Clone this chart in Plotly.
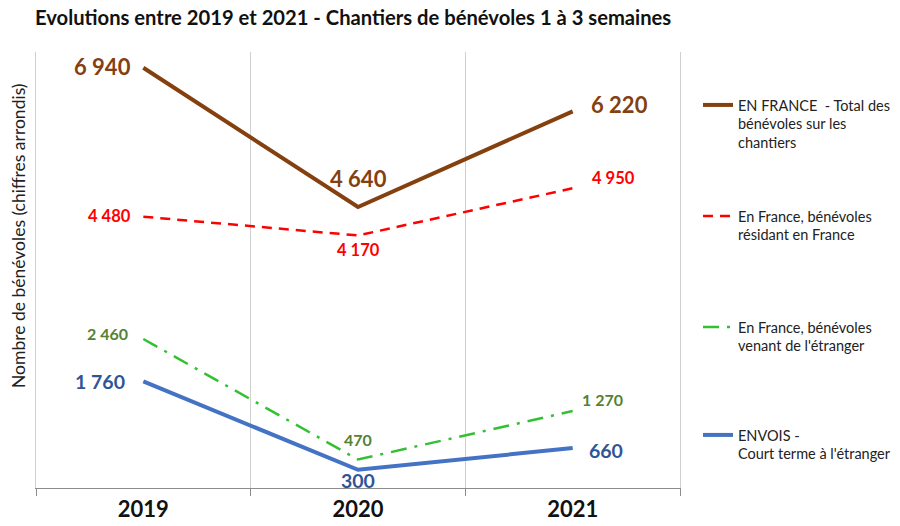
import plotly.graph_objects as go

years = ["2019", "2020", "2021"]
total_france = [6940, 4640, 6220]
residents = [4480, 4170, 4950]
etrangers = [2460, 470, 1270]
envois = [1760, 300, 660]

def fmt(v):
    return f"{v:,}".replace(",", " ")

FONT = "Lato"

series = [
    dict(values=total_france,
         name="EN FRANCE  - Total des<br>bénévoles sur les<br>chantiers",
         line=dict(color="#84400F", width=4),
         label_color="#84400F", label_size=22,
         offsets=[("right", -10, 1), ("center", 0, 29), ("left", 16, 7)]),
    dict(values=residents,
         name="En France, bénévoles<br>résidant en France",
         line=dict(color="#FF0000", width=2.5, dash="10px,7px"),
         label_color="#FF0000", label_size=16.5,
         offsets=[("right", -10, 1), ("center", 0, -15), ("left", 17, 10)]),
    dict(values=etrangers,
         name="En France, bénévoles<br>venant de l'étranger",
         line=dict(color="#33C033", width=2.5, dash="16px,8px,3px,8px"),
         label_color="#548235", label_size=16,
         offsets=[("right", -13, 6), ("center", 0, 20), ("left", 7, 12)]),
    dict(values=envois,
         name="ENVOIS -<br>Court terme à l'étranger",
         line=dict(color="#4472C4", width=4),
         label_color="#2F5597", label_size=19.5,
         offsets=[("right", -16, 0), ("center", 0, -11), ("left", 14, -2)]),
]

fig = go.Figure()
leg_tops = [89, 200, 311, 419]
legends = {}
leg_common = dict(xref="container", yref="container", xanchor="left", yanchor="top",
                  valign="top", bgcolor="rgba(0,0,0,0)",
                  font=dict(family=FONT, size=14.5, color="#222222"))

for i, s in enumerate(series):
    key = "legend" if i == 0 else f"legend{i+1}"
    legends[key] = dict(leg_common, x=698 / 900, y=1 - leg_tops[i] / 526)
    fig.add_trace(go.Scatter(
        x=years, y=s["values"], mode="lines", name=s["name"],
        line=s["line"], legend=key, hoverinfo="x+y",
    ))
    for xi, (yv, (anchor, dx, dy)) in enumerate(zip(s["values"], s["offsets"])):
        fig.add_annotation(
            x=xi, y=yv, xref="x", yref="y", text=fmt(yv), showarrow=False,
            xanchor=anchor, yanchor="middle", xshift=dx, yshift=dy,
            font=dict(family=FONT, size=s["label_size"], color=s["label_color"], weight="bold"),
        )

fig.update_layout(
    width=900, height=526,
    margin=dict(l=36, r=220, t=52, b=38),
    paper_bgcolor="white", plot_bgcolor="white",
    font=dict(family=FONT, color="#222222"),
    title=dict(text="<b>Evolutions entre 2019 et 2021 - Chantiers de bénévoles 1 à 3 semaines</b>",
               x=35 / 900, xanchor="left", xref="container",
               y=1 - 18 / 526, yanchor="middle", yref="container",
               font=dict(family=FONT, size=20.2, color="#111111")),
    showlegend=True,
    **legends,
)

fig.update_xaxes(
    type="category", range=[-0.5, 2.5], automargin=False,
    tickson="boundaries", ticks="outside", ticklen=7, tickcolor="#8C8C8C",
    ticklabelstandoff=2,
    showgrid=True, gridcolor="#D0D0D0", gridwidth=1,
    showline=True, linecolor="#8C8C8C", linewidth=1,
    tickfont=dict(family=FONT, size=22, color="#111111", weight="bold"),
)
fig.update_yaxes(
    range=[0, 7200], showticklabels=False, showgrid=False, zeroline=False,
    automargin=False,
    showline=True, mirror=True, linecolor="#D0D0D0", linewidth=1, ticks="",
)

fig.add_annotation(
    text="Nombre de bénévoles (chiffres arrondis)", textangle=-90,
    xref="paper", yref="paper",
    x=(18 - 36) / 644, y=(488 - 236) / 436,
    xanchor="center", yanchor="middle",
    showarrow=False, font=dict(family=FONT, size=17.5, color="#222222"),
)

fig.write_html("out.html", config={"displayModeBar": False},
               post_script="document.body.style.margin='0';")
